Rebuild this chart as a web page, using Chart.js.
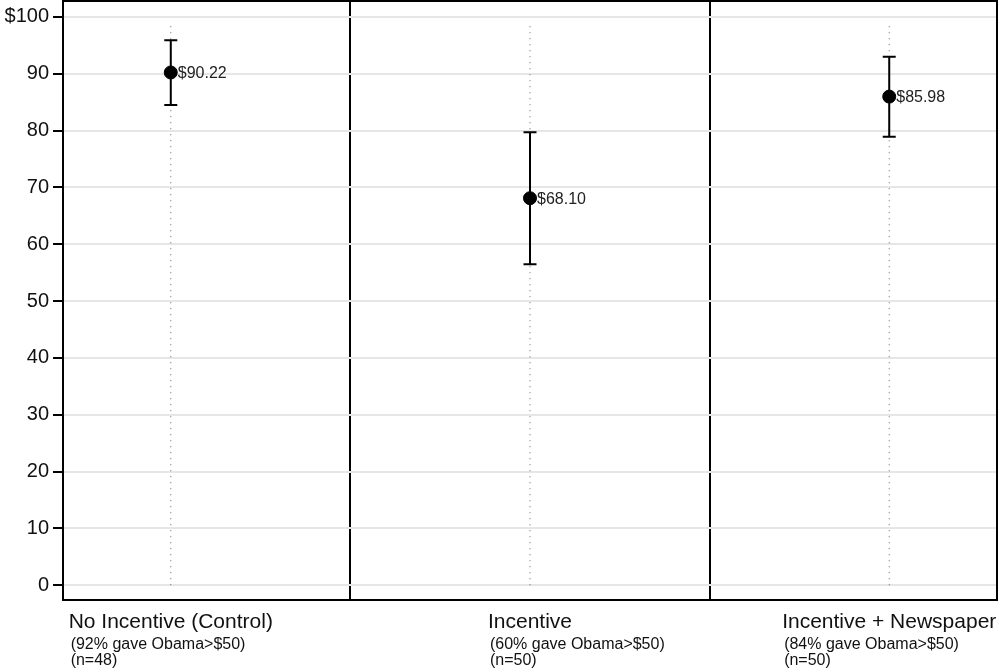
<!DOCTYPE html>
<html lang="en">
<head>
  <meta charset="UTF-8">
  <title>Amount given to Obama by condition</title>
  <script src="https://cdn.jsdelivr.net/npm/chart.js"></script>
  <style>
    body { margin: 0; background: #fff; }
  </style>
</head>
<body>
  <canvas id="grafico" width="1000" height="669"></canvas>

  <script>
    // data
    const categories = ["No Incentive (Control)", "Incentive", "Incentive + Newspaper"];
    const notes = ["(92% gave Obama>$50)", "(60% gave Obama>$50)", "(84% gave Obama>$50)"];
    const sizes = ["(n=48)", "(n=50)", "(n=50)"];
    const positions = [1, 2, 3];
    const means = [90.22, 68.10, 85.98];
    const lower = [84.5, 56.5, 78.9];
    const upper = [95.9, 79.7, 93.0];
    const yTicks = [0, 10, 20, 30, 40, 50, 60, 70, 80, 90, 100];
    const dividers = [1.5, 2.5];
    const guideTop = 99;

    const font = "'Liberation Sans', Arial, sans-serif";

    const guideSets = positions.map(p => ({
      type: 'line',
      data: [{ x: p, y: 0 }, { x: p, y: guideTop }],
      borderColor: '#666',
      borderWidth: 1,
      borderDash: [1, 5],
      pointRadius: 0,
      order: 3
    }));

    const extras = {
      id: 'extras',
      afterDatasetsDraw(chart) {
        const ctx = chart.ctx;
        const xs = chart.scales.x, ys = chart.scales.y;
        ctx.save();
        ctx.strokeStyle = '#000';
        ctx.lineWidth = 2;
        positions.forEach((p, i) => {
          const px = xs.getPixelForValue(p);
          const top = ys.getPixelForValue(upper[i]);
          const bot = ys.getPixelForValue(lower[i]);
          ctx.beginPath();
          ctx.moveTo(px, top); ctx.lineTo(px, bot);
          ctx.moveTo(px - 6.5, top); ctx.lineTo(px + 6.5, top);
          ctx.moveTo(px - 6.5, bot); ctx.lineTo(px + 6.5, bot);
          ctx.stroke();
          // value label
          ctx.fillStyle = '#222';
          ctx.font = '16px ' + font;
          ctx.textBaseline = 'middle';
          ctx.textAlign = 'left';
          ctx.fillText('$' + means[i].toFixed(2), px + 7, ys.getPixelForValue(means[i]) + 1);
        });
        ctx.restore();
      },
      afterDraw(chart) {
        const ctx = chart.ctx;
        const a = chart.chartArea;
        const xs = chart.scales.x;
        ctx.save();
        // top and right frame
        ctx.strokeStyle = '#000';
        ctx.lineWidth = 2;
        ctx.beginPath();
        ctx.moveTo(a.left, a.top); ctx.lineTo(a.right, a.top); ctx.lineTo(a.right, a.bottom);
        ctx.stroke();
        // category labels under each panel
        ctx.fillStyle = '#111';
        ctx.textAlign = 'left';
        ctx.textBaseline = 'alphabetic';
        positions.forEach((p, i) => {
          const cx = xs.getPixelForValue(p);
          ctx.font = '21px ' + font;
          const w = ctx.measureText(categories[i]).width;
          const left = cx - w / 2;
          ctx.fillText(categories[i], left, 628);
          ctx.font = '16px ' + font;
          ctx.fillText(notes[i], left + 2, 649);
          ctx.fillText(sizes[i], left + 2, 665);
        });
        ctx.restore();
      }
    };

    new Chart(document.getElementById("grafico"), {
      type: 'scatter',
      data: {
        datasets: [
          ...guideSets,
          {
            data: positions.map((p, i) => ({ x: p, y: means[i] })),
            backgroundColor: '#000',
            borderColor: '#000',
            pointRadius: 6.5,
            pointHoverRadius: 6.5,
            order: 1
          }
        ]
      },
      options: {
        responsive: false,
        devicePixelRatio: 1,
        animation: false,
        layout: { autoPadding: false, padding: { top: 1, right: 3, left: 0, bottom: 0 } },
        plugins: { legend: { display: false }, tooltip: { enabled: false } },
        scales: {
          x: {
            type: 'linear',
            min: 0.7,
            max: 3.3,
            afterBuildTicks: s => { s.ticks = dividers.map(v => ({ value: v })); },
            afterFit: s => { s.height = 69; s.paddingLeft = 0; s.paddingRight = 0; },
            ticks: { display: false },
            grid: { color: '#000', lineWidth: 2, drawTicks: false },
            border: { color: '#000', width: 2 }
          },
          y: {
            min: -2.6,
            max: 102.8,
            afterBuildTicks: s => { s.ticks = yTicks.map(v => ({ value: v })); },
            afterFit: s => { s.width = 63; s.paddingTop = 0; s.paddingBottom = 0; },
            ticks: {
              color: '#111',
              font: { family: font, size: 20 },
              padding: 4,
              callback: v => v === 100 ? '$100' : v
            },
            grid: { color: '#e6e6e6', lineWidth: 2, tickColor: '#000', tickLength: 10, tickWidth: 2 },
            border: { color: '#000', width: 2 }
          }
        }
      },
      plugins: [extras]
    });
  </script>
</body>
</html>
